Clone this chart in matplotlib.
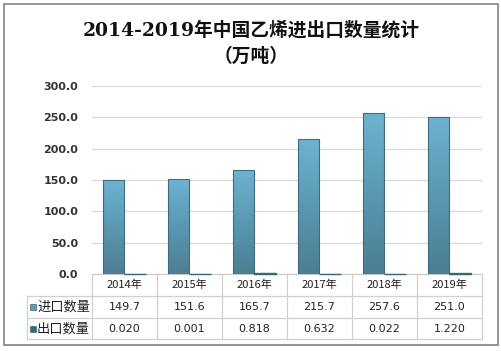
import matplotlib
matplotlib.use("Agg")
import matplotlib.pyplot as plt
import numpy as np
from matplotlib.colors import LinearSegmentedColormap
from matplotlib.lines import Line2D
from matplotlib.patches import Rectangle
import matplotlib.transforms as mtransforms

plt.rcParams['font.family'] = ['Noto Sans CJK SC', 'DejaVu Sans']

categories = ['2014年', '2015年', '2016年', '2017年', '2018年', '2019年']
import_vals = [149.7, 151.6, 165.7, 215.7, 257.6, 251.0]
export_vals = [0.020, 0.001, 0.818, 0.632, 0.022, 1.220]
import_labels = ['149.7', '151.6', '165.7', '215.7', '257.6', '251.0']
export_labels = ['0.020', '0.001', '0.818', '0.632', '0.022', '1.220']
series_names = ['进口数量', '出口数量']
yticks = [0, 50, 100, 150, 200, 250, 300]
title = '2014-2019年中国乙烯进出口数量统计'
subtitle = '（万吨）'

W, H = 502, 351
fig = plt.figure(figsize=(W / 100, H / 100), dpi=100)


def fx(x):
    return x / W


def fy(y):
    return 1 - y / H


# outer border
fig.add_artist(Rectangle((fx(4), fy(345)), fx(494), 341 / H, transform=fig.transFigure,
                         fill=False, edgecolor='#8C8C8C', linewidth=1.3))

tfam = ['DejaVu Serif', 'Noto Sans CJK SC']
fig.text(0.5, fy(30), title, ha='center', va='center', fontsize=13.5, fontweight='bold',
         color='#111111', family=tfam)
fig.text(0.5, fy(56), subtitle, ha='center', va='center', fontsize=13.5, fontweight='bold',
         color='#111111', family=['Noto Sans CJK SC'])

ax = fig.add_axes([fx(92), fy(274), fx(482) - fx(92), fy(86) - fy(274)])
x = np.arange(len(categories))
bw = 0.33
grad_cmap = LinearSegmentedColormap.from_list('g', ['#4D7E92', '#5A98B2', '#6DB3D0'])
grad = np.linspace(0, 1, 100).reshape(-1, 1)

bars = ax.bar(x - bw / 2, import_vals, bw, color='none', edgecolor='#3E6C7E', linewidth=0.8, zorder=3)
for b in bars:
    x0 = b.get_x()
    im = ax.imshow(grad, extent=[x0, x0 + b.get_width(), 0, b.get_height()], origin='lower',
                   aspect='auto', cmap=grad_cmap, zorder=2.5)
    im.set_clip_path(b)
ebars = ax.bar(x + bw / 2, export_vals, bw, color='#3B6678', edgecolor='#3B6678', linewidth=1.0, zorder=3)
for b in ebars:
    b.set_clip_on(False)

ax.set_xlim(-0.5, len(categories) - 0.5)
ax.set_ylim(0, 300)
ax.set_yticks(yticks)
ax.set_yticklabels([f'{v:.1f}' for v in yticks], fontsize=8, fontweight='bold', color='#333333',
                   family=['DejaVu Sans'])
ax.tick_params(axis='y', length=0, pad=10)
ax.set_xticks([])
ax.grid(axis='y', color='#D9D9D9', linewidth=0.9, zorder=0)
for s in ['top', 'right', 'left']:
    ax.spines[s].set_visible(False)
ax.spines['bottom'].set_color('#C8C8C8')
ax.spines['bottom'].set_zorder(1)
ax.set_facecolor('none')

# data table
lc = '#D0D0D0'
trans = mtransforms.blended_transform_factory(ax.transData, fig.transFigure)
rows_y = [274, 296, 318, 339]
for y in rows_y[1:]:
    fig.add_artist(Line2D([fx(27), fx(482)], [fy(y), fy(y)], transform=fig.transFigure, color=lc, lw=0.9))
for i in range(len(categories) + 1):
    xd = i - 0.5
    fig.add_artist(Line2D([xd, xd], [fy(274), fy(339)], transform=trans, color=lc, lw=0.9))
fig.add_artist(Line2D([fx(27), fx(27)], [fy(296), fy(339)], transform=fig.transFigure, color=lc, lw=0.9))

for i, c in enumerate(categories):
    fig.text(x[i], fy(285), c, transform=trans, ha='center', va='center', fontsize=8, color='#222222')
    fig.text(x[i], fy(307), import_labels[i], transform=trans, ha='center', va='center', fontsize=8,
             color='#222222', family=['DejaVu Sans'])
    fig.text(x[i], fy(329), export_labels[i], transform=trans, ha='center', va='center', fontsize=8,
             color='#222222', family=['DejaVu Sans'])

sq_colors = ['#5A9BB5', '#3B6678']
for j, (name, yc) in enumerate(zip(series_names, [307, 329])):
    fig.add_artist(Rectangle((fx(30), fy(yc + 3)), fx(6), 6 / H, transform=fig.transFigure,
                             facecolor=sq_colors[j], edgecolor='#3E6C7E', lw=0.5))
    fig.text(fx(37), fy(yc), name, ha='left', va='center', fontsize=9.5, color='#222222')

fig.savefig('out.png', dpi=100)
